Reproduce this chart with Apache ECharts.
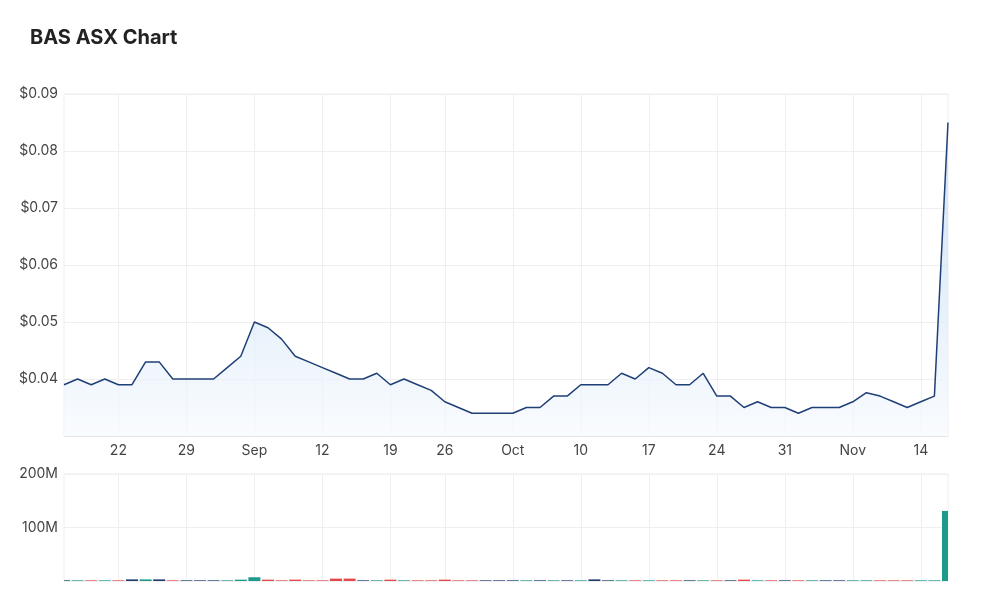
<!DOCTYPE html>
<html>
<head>
<meta charset="utf-8">
<script src="https://cdn.jsdelivr.net/npm/echarts@6/dist/echarts.min.js"></script>
<style>
html,body{margin:0;padding:0;background:#fff;}
#chart{width:1000px;height:613px;}
</style>
</head>
<body>
<div id="chart"></div>
<script>
// Trading days (ASX, 2022) - Sep 22 was a public holiday
const dates = [
 '2022-08-16','2022-08-17','2022-08-18','2022-08-19',
 '2022-08-22','2022-08-23','2022-08-24','2022-08-25','2022-08-26',
 '2022-08-29','2022-08-30','2022-08-31','2022-09-01','2022-09-02',
 '2022-09-05','2022-09-06','2022-09-07','2022-09-08','2022-09-09',
 '2022-09-12','2022-09-13','2022-09-14','2022-09-15','2022-09-16',
 '2022-09-19','2022-09-20','2022-09-21','2022-09-23',
 '2022-09-26','2022-09-27','2022-09-28','2022-09-29','2022-09-30',
 '2022-10-03','2022-10-04','2022-10-05','2022-10-06','2022-10-07',
 '2022-10-10','2022-10-11','2022-10-12','2022-10-13','2022-10-14',
 '2022-10-17','2022-10-18','2022-10-19','2022-10-20','2022-10-21',
 '2022-10-24','2022-10-25','2022-10-26','2022-10-27','2022-10-28',
 '2022-10-31','2022-11-01','2022-11-02','2022-11-03','2022-11-04',
 '2022-11-07','2022-11-08','2022-11-09','2022-11-10','2022-11-11',
 '2022-11-14','2022-11-15','2022-11-16'
];
// Closing price (AUD)
const prices = [
 0.039,0.040,0.039,0.040,
 0.039,0.039,0.043,0.043,0.040,
 0.040,0.040,0.040,0.042,0.044,
 0.050,0.049,0.047,0.044,0.043,
 0.042,0.041,0.040,0.040,0.041,
 0.039,0.040,0.039,0.038,
 0.036,0.035,0.034,0.034,0.034,
 0.034,0.035,0.035,0.037,0.037,
 0.039,0.039,0.039,0.041,0.040,
 0.042,0.041,0.039,0.039,0.041,
 0.037,0.037,0.035,0.036,0.035,
 0.035,0.034,0.035,0.035,0.035,
 0.036,0.0376,0.037,0.036,0.035,
 0.036,0.037,0.085
];
// Volume (millions of shares)
const volumes = [
 1.2,1.2,1.2,1.2,
 1.2,3,3,3,1.2,
 1.2,1.2,1.2,1.2,2.5,
 7,2.5,1.2,2.5,1.2,
 1.2,4.5,4.5,1.2,1.2,
 2.5,1.2,1.2,1.2,
 2.5,1.2,1.2,1.2,1.2,
 1.2,1.2,1.2,1.2,1.2,
 1.2,3,1.2,1.2,1.2,
 1.2,1.2,1.2,1.2,1.2,
 1.2,1.2,2.5,1.2,1.2,
 1.2,1.2,1.2,1.2,1.2,
 1.2,1.2,1.2,1.2,1.2,
 1.2,1.2,131
];
// Tick labels on the date axis
const tickDates = ['2022-08-22','2022-08-29','2022-09-05','2022-09-12','2022-09-19','2022-09-26',
 '2022-10-03','2022-10-10','2022-10-17','2022-10-24','2022-10-31','2022-11-07','2022-11-14'];
const tickLabels = ['22','29','Sep','12','19','26','Oct','10','17','24','31','Nov','14'];

const UP = '#1e9a8c', DOWN = '#e5474b', FLAT = '#1f3a6e';
const FONT = 'Inter, "Noto Sans", sans-serif';
const GRIDC = '#efefef';
const BAR_W = 12;

const isTick = (i, v) => tickDates.indexOf(v) >= 0;
const labelFor = v => { const k = tickDates.indexOf(v); return k >= 0 ? tickLabels[k] : ''; };
const colorAt = i => {
  if (i === 0 || prices[i] === prices[i-1]) return FLAT;
  return prices[i] > prices[i-1] ? UP : DOWN;
};

const volData = volumes.map((v, i) => [i, v * 1e6]);

const chart = echarts.init(document.getElementById('chart'), null, { renderer: 'canvas' });
chart.setOption({
  animation: false,
  backgroundColor: '#fff',
  title: {
    text: 'BAS ASX Chart', left: 25, top: 23,
    textStyle: { fontFamily: FONT, fontSize: 20, fontWeight: 'bold', color: '#222' }
  },
  grid: [
    { left: 64, right: 52, top: 94, height: 342, show: true, borderColor: GRIDC, borderWidth: 1 },
    { left: 64, right: 52, top: 474, height: 107, show: true, borderColor: GRIDC, borderWidth: 1 }
  ],
  xAxis: [
    {
      type: 'category', gridIndex: 0, data: dates, boundaryGap: false,
      axisTick: { show: false },
      axisLine: { show: true, lineStyle: { color: '#e8e8e8' } },
      axisLabel: { interval: isTick, formatter: labelFor, color: '#444', fontSize: 14, fontFamily: FONT, margin: 8 },
      splitLine: { show: true, interval: isTick, lineStyle: { color: GRIDC } }
    },
    {
      type: 'category', gridIndex: 1, data: dates, boundaryGap: false,
      axisTick: { show: false },
      axisLine: { show: false },
      axisLabel: { show: false },
      splitLine: { show: true, interval: isTick, lineStyle: { color: GRIDC } }
    }
  ],
  yAxis: [
    {
      type: 'value', gridIndex: 0, min: 0.03, max: 0.09, interval: 0.01,
      axisLine: { show: false }, axisTick: { show: false },
      axisLabel: { showMinLabel: false, formatter: v => '$' + v.toFixed(2), color: '#444', fontSize: 14, fontFamily: FONT, margin: 6 },
      splitLine: { lineStyle: { color: GRIDC } }
    },
    {
      type: 'value', gridIndex: 1, min: 0, max: 200e6, interval: 100e6,
      axisLine: { show: false }, axisTick: { show: false },
      axisLabel: { showMinLabel: false, formatter: v => Math.round(v / 1e6) + 'M', color: '#444', fontSize: 14, fontFamily: FONT, margin: 6 },
      splitLine: { lineStyle: { color: GRIDC } }
    }
  ],
  series: [
    {
      type: 'line', xAxisIndex: 0, yAxisIndex: 0, data: prices,
      symbol: 'none', smooth: false,
      lineStyle: { color: '#1f3f77', width: 1.5 },
      areaStyle: {
        origin: 'start',
        color: new echarts.graphic.LinearGradient(0, 0, 0, 1, [
          { offset: 0, color: '#b9d7f3' },
          { offset: 0.6, color: '#dcebf9' },
          { offset: 1, color: '#f7fafe' }
        ])
      }
    },
    {
      type: 'custom', xAxisIndex: 1, yAxisIndex: 1, data: volData,
      encode: { x: 0, y: 1 }, clip: true,
      renderItem: (params, api) => {
        const i = api.value(0);
        const base = api.coord([i, 0]);
        const top = api.coord([i, api.value(1)]);
        return {
          type: 'rect',
          shape: { x: base[0] - BAR_W / 2, y: top[1], width: BAR_W, height: base[1] - top[1] },
          style: { fill: colorAt(params.dataIndex) }
        };
      }
    }
  ]
});
</script>
</body>
</html>
